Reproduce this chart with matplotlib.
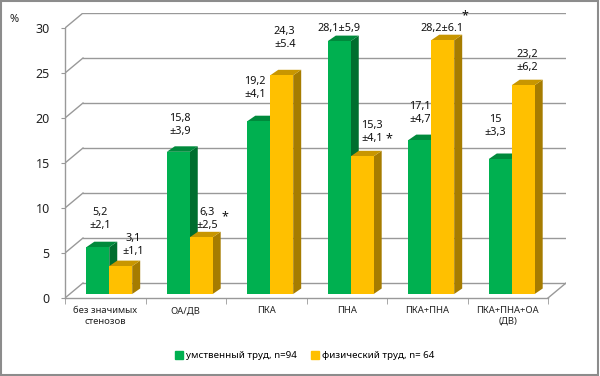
import matplotlib
matplotlib.use("Agg")
import matplotlib.pyplot as plt
from matplotlib.patches import Polygon, Rectangle
from matplotlib.lines import Line2D

plt.rcParams['font.family'] = ['Noto Sans', 'DejaVu Sans']

categories = ["без значимых\nстенозов", "ОА/ДВ", "ПКА", "ПНА", "ПКА+ПНА", "ПКА+ПНА+ОА\n(ДВ)"]
mental = [5.2, 15.8, 19.2, 28.1, 17.1, 15.0]
physical = [3.1, 6.3, 24.3, 15.3, 28.2, 23.2]
mental_labels = ["5,2\n±2,1", "15,8\n±3,9", "19,2\n±4,1", "28,1±5,9", "17,1\n±4,7", "15\n±3,3"]
physical_labels = ["3,1\n±1,1", "6,3\n±2,5", "24,3\n±5.4", "15,3\n±4,1", "28,2±6.1", "23,2\n±6,2"]
physical_star = [False, True, False, True, True, False]
legend_labels = ["умственный труд, n=94", "физический труд, n= 64"]
yticks = [0, 5, 10, 15, 20, 25, 30]

# label offsets (pixels) relative to bar top
m_off = [(2, 28), (2, 27), (-4, 33), (0, 13), (0, 27), (-5, 33)]
p_off = [(12, 21), (6, 18), (3, 37), (10, 24), (-1, 12), (4, 24)]
star_off = [None, (24, 21), None, (27, 18), (22, 24), None]

W, H, DPI = 600, 376, 100
fig = plt.figure(figsize=(W / DPI, H / DPI), dpi=DPI)

# geometry (pixels)
x0, y0 = 65, 298
ppx = 80.5   # pixels per category
ppy = 9.0    # pixels per value unit
WX = 18 / ppx   # wall depth in data units
WY = 15 / ppy
FX, FY = 4 / ppx, 4 / ppy   # bar front offset in depth
BX, BY = 8 / ppx, 5.5 / ppy  # bar depth
n = len(categories)
xmax = n + WX
ymax = 30 + WY
ax = fig.add_axes([x0 / W, (H - y0) / H, xmax * ppx / W, ymax * ppy / H])
ax.set_xlim(0, xmax)
ax.set_ylim(0, ymax)
ax.patch.set_alpha(0)

gc = '#999999'
for s in ['top', 'right']:
    ax.spines[s].set_visible(False)
ax.spines['left'].set_bounds(0, 30)
ax.spines['bottom'].set_bounds(0, n)
for s in ['left', 'bottom']:
    ax.spines[s].set_color(gc)
    ax.spines[s].set_linewidth(1.0)

# back wall gridlines and side-wall diagonals
for v in yticks:
    ax.plot([WX, n + WX], [v + WY, v + WY], color=gc, lw=1.0, zorder=1)
    ax.plot([0, WX], [v, v + WY], color=gc, lw=1.0, zorder=1)
ax.plot([n, n + WX], [0, WY], color=gc, lw=1.0, zorder=1)

ax.set_yticks(yticks)
ax.set_yticklabels([str(v) for v in yticks], fontsize=9, color='#222222')
ax.tick_params(axis='y', length=3, color=gc, pad=8)
ax.set_xticks([i + 0.5 for i in range(n)])
ax.set_xticklabels(categories, fontsize=6.8, color='#222222')
ax.set_xticks(list(range(n + 1)), minor=True)
ax.tick_params(axis='x', which='major', length=0, pad=6)
ax.tick_params(axis='x', which='minor', length=4, color=gc)

bw = 0.285
series = [
    (mental, -bw / 2, ('#00b050', '#006e2f', '#008a3c')),
    (physical, bw / 2, ('#ffc000', '#a67c00', '#c89600')),
]

z = 3
for i in range(n):
    for vals, off, (cf, cs, ct) in series:
        v = vals[i]
        xl = i + 0.5 + off - bw / 2 + FX
        xr = xl + bw
        b = FY
        side = Polygon([(xr, b), (xr + BX, b + BY), (xr + BX, b + v + BY), (xr, b + v)],
                       closed=True, facecolor=cs, edgecolor='none', zorder=z)
        top = Polygon([(xl, b + v), (xr, b + v), (xr + BX, b + v + BY), (xl + BX, b + v + BY)],
                      closed=True, facecolor=ct, edgecolor='none', zorder=z)
        ax.add_patch(side)
        ax.add_patch(top)
        ax.bar([xl + bw / 2], [v], width=bw, bottom=b, color=cf, edgecolor='none', zorder=z + 0.5)
        z += 1

for i in range(n):
    for vals, off, labs, offs in [(mental, -bw / 2, mental_labels, m_off),
                                  (physical, bw / 2, physical_labels, p_off)]:
        xc = i + 0.5 + off + FX
        yt = vals[i] + FY
        ax.annotate(labs[i], xy=(xc, yt), xytext=offs[i], textcoords='offset pixels',
                    ha='center', va='center', multialignment='center', fontsize=7.8,
                    color='#111111', linespacing=1.25, zorder=50, annotation_clip=False)
    if physical_star[i]:
        xc = i + 0.5 + bw / 2 + FX
        yt = physical[i] + FY
        ax.annotate('*', xy=(xc, yt), xytext=star_off[i], textcoords='offset pixels',
                    ha='center', va='center', fontsize=9, color='#111111', zorder=50,
                    annotation_clip=False)

fig.text(14 / W, 1 - 19 / H, '%', fontsize=8, ha='center', va='center', color='#222222')

handles = [Line2D([], [], marker='s', linestyle='none', markersize=5.5, color='#00b050'),
           Line2D([], [], marker='s', linestyle='none', markersize=5.5, color='#ffc000')]
fig.legend(handles, legend_labels, loc='center', bbox_to_anchor=(305 / W, 1 - 356 / H),
           ncol=2, frameon=False, fontsize=7, handletextpad=0.3, columnspacing=1.5,
           handlelength=0.8)

fig.patches.append(Rectangle((0.001, 0.002), 0.996, 0.996, transform=fig.transFigure,
                             fill=False, edgecolor='#8c8c8c', lw=1.5))

fig.savefig('out.png', dpi=DPI)
